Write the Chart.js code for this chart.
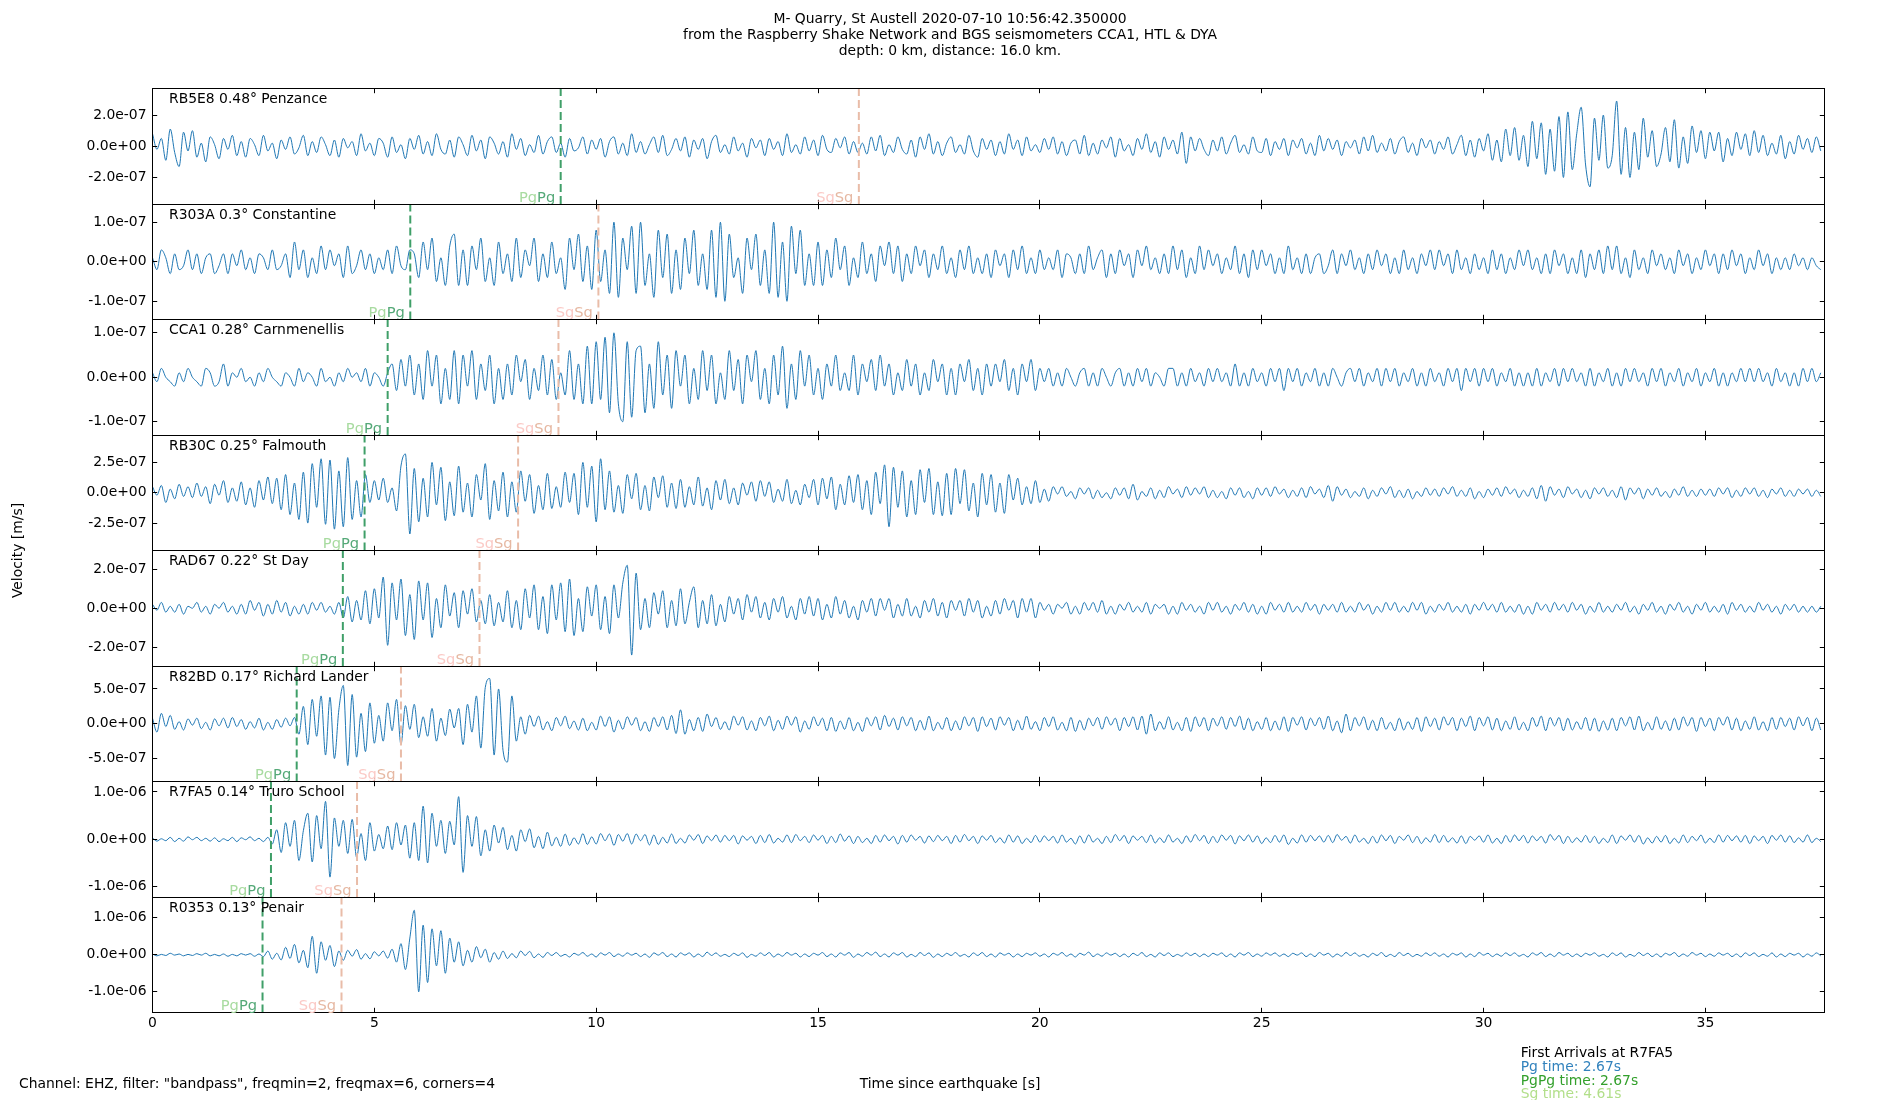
<!DOCTYPE html>
<html>
<head>
<meta charset="utf-8">
<script src="https://cdn.jsdelivr.net/npm/chart.js@4.4.0/dist/chart.umd.min.js"></script>
<style>
  html, body { margin: 0; background: #fff; }
  canvas { display: block; }
</style>
</head>
<body>
<canvas id="sismo" width="1900" height="1100"></canvas>
<script>
// station info, top panel first
const stations = ['RB5E8', 'R303A', 'CCA1', 'RB30C', 'RAD67', 'R82BD', 'R7FA5', 'R0353'];
const distances = ['0.48°', '0.3°', '0.28°', '0.25°', '0.22°', '0.17°', '0.14°', '0.13°'];
const places = ['Penzance', 'Constantine', 'Carnmenellis', 'Falmouth', 'St Day', 'Richard Lander', 'Truro School', 'Penair'];

// arrival times [s]
const pgTimes = [9.20, 5.81, 5.30, 4.78, 4.29, 3.25, 2.67, 2.48];
const sgTimes = [15.92, 10.05, 9.15, 8.24, 7.37, 5.60, 4.61, 4.26];

// y axis half ranges and tick steps [m/s]
const yLimits = [3.7e-7, 1.46e-7, 1.30e-7, 4.76e-7, 2.96e-7, 8.3e-7, 1.22e-6, 1.56e-6];
const yTickSteps = [2e-7, 1e-7, 1e-7, 2.5e-7, 2e-7, 5e-7, 1e-6, 1e-6];
const xTicks = [0, 5, 10, 15, 20, 25, 30, 35];
const xMax = 37.68;

// velocity samples every 0.1 s, in units of 1e-8 m/s (one row per second)
const dt = 0.1;
const unit = 1e-8;

const rb5e8 = [
  8,-2,5,-9,11,-4,-13,9,-3,10,
  -7,2,-10,6,1,-8,5,-2,7,-6,
  3,-7,5,1,-6,7,-3,2,-8,4,
  -2,6,-5,-1,7,-6,3,-4,6,1,
  -6,4,-7,5,-1,3,-6,8,-3,2,
  -6,5,2,-7,6,-4,1,-8,5,-2,
  7,-5,3,-6,8,-2,-5,4,-7,6,
  1,-6,7,-3,4,-8,6,2,-5,3,
  -7,8,-2,5,-6,1,-4,7,-5,3,
  6,-4,2,-7,5,-3,-1,6,-5,4,
  -2,5,-7,3,6,-5,2,-6,8,-4,
  3,-5,1,6,-4,7,-6,-2,5,-3,
  6,-7,4,-2,5,-8,3,7,-4,1,
  -5,6,-3,2,-7,5,-1,4,-6,5,
  -2,3,-6,8,-4,1,-5,6,-3,4,
  -6,7,-2,-4,5,-1,6,-5,3,-4,
  2,-5,6,-3,7,-6,1,-4,6,-2,
  -5,4,-7,6,-2,8,-5,3,-6,2,
  6,-4,1,-5,7,-3,-7,5,-2,4,
  -6,3,-5,8,-2,4,-6,6,-3,1,
  -4,5,-2,6,-5,3,-6,2,4,-5,
  7,-6,2,-5,4,-1,6,-7,5,-3,
  1,-6,5,-2,8,-4,3,-7,6,-2,
  4,-5,9,-11,6,-3,5,-2,-6,4,
  -3,6,-5,2,7,-4,1,-5,6,-3,
  -4,5,-6,3,-2,5,-6,4,-1,5,
  -5,2,-6,7,-3,5,-2,4,-6,3,
  -1,4,-5,6,-3,7,-4,2,-3,5,
  -5,3,6,-4,2,-6,5,-1,4,-5,
  3,-2,6,-5,1,7,-6,4,-7,5,
  -3,8,-9,4,-10,11,-6,12,-9,7,
  -13,16,-8,15,-18,11,-16,19,-20,22,
  -15,8,25,-12,-26,18,-9,20,-14,-6,
  29,-18,12,-20,9,-15,18,-7,10,-13,
  -5,12,-10,17,-14,6,-11,13,-4,10,
  -8,9,-3,9,-10,5,-6,9,-2,8,
  -6,10,-4,7,-6,2,-5,7,-8,3,
  -5,7,-2,5,-4,6,-3
];

const r303a = [
  1,-2,3,1,-3,2,-2,-1,3,-2,
  2,-3,1,2,-3,-1,2,-3,2,-1,
  3,-2,1,-3,2,1,-2,3,-2,-1,
  2,-4,5,-2,3,-4,1,-3,4,-2,
  3,-1,2,-4,4,-3,-1,3,-2,2,
  -3,1,-2,3,-3,4,-1,-2,3,2,
  -4,5,-2,6,-5,1,-6,4,7,-6,
  3,-6,4,-2,6,-5,1,-6,5,-3,
  2,-5,6,-4,3,-1,6,-5,2,-4,
  5,-3,1,-7,6,-2,7,-5,4,-7,
  8,-5,3,-8,10,-9,6,-2,9,-8,
  10,-6,2,-9,8,-4,7,-8,3,-7,
  6,-3,8,-6,2,-7,8,-9,10,-10,
  7,-4,1,-8,6,-2,7,-6,3,-8,
  10,-9,5,-10,9,-3,8,-6,2,-6,
  5,-6,3,-4,6,-2,4,-6,1,-4,
  5,-3,2,-5,4,-1,5,-3,4,-5,
  2,-3,4,-1,3,-4,2,-2,4,-3,
  1,-4,3,-2,4,-3,1,-3,2,-4,
  3,-1,2,-4,3,-2,4,-3,1,-3,
  3,-2,1,-2,3,-4,2,1,-3,2,
  -3,4,-2,1,3,-4,2,-3,3,-1,
  2,-4,3,-1,4,-2,1,-3,2,-3,
  4,-2,3,-4,1,-3,4,-2,3,-1,
  2,-3,1,-2,4,-3,2,-4,3,-2,
  3,-1,2,-3,1,-3,4,-2,1,-3,
  2,-3,1,2,-3,-1,3,-3,2,-1,
  3,-2,1,-3,2,-2,3,-1,2,-3,
  1,-3,3,-2,1,-3,2,-1,3,-2,
  3,-1,2,-3,3,-2,1,-3,2,-2,
  1,-3,3,-2,2,-3,1,-2,3,-1,
  3,-2,1,-3,2,-3,3,-1,2,-3,
  1,-3,3,-4,2,-2,3,-3,4,-2,
  4,-3,1,-4,3,-2,1,-3,3,-1,
  2,-2,1,-3,3,-1,2,-3,1,-2,
  3,-1,2,-3,2,-2,3,-1,2,-3,
  1,-2,3,-1,2,-3,1,-2,1,-2,
  2,-1,1,-2,1,-1,-2
];

const cca1 = [
  1,-1,2,0,-1,-2,1,-1,2,0,
  -1,-2,2,1,-2,-1,3,-2,1,0,
  2,-1,0,-2,1,-1,2,0,-1,-2,
  1,0,-2,2,-1,1,0,-2,2,-1,
  0,-2,1,-1,2,0,1,-1,2,-2,
  1,0,-2,1,3,-3,4,-2,5,-4,
  3,-5,6,-2,5,-6,2,-5,6,-6,
  5,-2,6,-5,3,-3,5,-6,2,-5,
  3,-4,5,-1,4,-5,2,-3,5,-4,
  4,-5,1,-4,6,-5,3,-6,7,-6,
  8,-5,9,-8,10,-6,-10,8,-9,6,
  7,-8,3,-7,8,-4,5,-7,6,-2,
  5,-6,2,-5,6,-3,5,-6,1,-5,
  6,-3,4,-6,5,-1,6,-5,2,-6,
  5,-4,7,-7,3,-5,6,-2,5,-4,
  2,-5,3,-2,5,-3,1,-3,5,-4,
  3,-1,4,-3,5,-2,3,-4,1,-3,
  4,-2,3,-4,1,-3,4,-1,3,-4,
  2,-4,3,-1,4,-3,2,-4,3,-2,
  3,-1,4,-3,2,-4,3,-1,4,-3,
  2,-1,2,-2,1,-2,2,0,-2,1,
  2,-2,1,-2,2,0,-2,1,2,-2,
  1,-2,2,-1,2,-2,1,0,-2,2,
  2,-2,1,-2,2,-1,1,-2,2,-1,
  2,-1,1,-2,3,-2,1,-2,2,-1,
  1,-2,2,-1,2,-3,2,-1,2,-2,
  1,-1,2,-2,1,-2,2,0,-2,1,
  2,-1,2,-2,1,-1,2,-2,2,-1,
  2,-2,1,-1,2,-2,1,-2,2,-1,
  1,-2,2,-1,2,-3,2,-1,2,-2,
  2,-1,2,-2,1,-1,2,-2,1,-2,
  1,-2,2,-2,1,-1,2,-2,2,-1,
  2,-1,1,-2,2,-2,1,-1,2,-2,
  1,-2,2,-1,2,-1,1,-2,2,-1,
  2,-2,1,-1,2,-2,1,-1,2,-2,
  1,-1,2,-2,1,-2,1,-1,2,-1,
  2,-1,2,-1,1,-2,2,-1,1,-2,
  1,-2,2,-1,2,-1,1
];

const rb30c = [
  5,-2,6,-8,3,-5,7,-3,5,-4,
  8,-3,5,-9,7,-2,10,-8,4,-7,
  9,-10,4,-12,10,-6,13,-9,12,-14,
  15,-18,8,-22,17,-25,24,-12,28,-26,
  27,-30,18,-28,29,-22,10,-20,15,-8,
  10,-6,12,-8,4,-15,22,32,-34,20,
  -24,12,-20,25,-10,21,-23,9,-19,22,
  -16,8,-20,15,-6,24,-22,10,-15,17,
  -20,9,-16,18,-7,15,-17,6,-14,16,
  -13,5,-12,17,-8,16,-18,25,-12,22,
  -24,28,-14,18,-16,6,-17,15,-5,16,
  -14,6,-15,13,-4,14,-12,8,-13,11,
  -12,5,-10,13,-11,4,-14,10,-6,11,
  -9,4,-10,8,-2,9,-7,10,-3,9,
  -8,3,-7,11,-9,2,-10,7,-4,11,
  -10,12,-5,13,-14,7,-10,14,-8,15,
  -14,10,-18,17,-9,23,-28,21,-12,18,
  -20,10,-18,19,-8,20,-18,9,-19,16,
  -18,20,-9,19,-15,8,-20,16,-10,15,
  -16,8,-17,15,-6,12,-10,5,-9,10,
  -8,3,-7,5,-1,5,-3,1,-5,4,
  -1,4,-5,2,-4,0,-5,4,-2,4,
  -5,7,-6,1,-3,4,-5,2,-4,5,
  -1,3,-4,5,-2,4,-1,5,-4,2,
  -4,1,-5,4,-2,4,-4,1,-5,4,
  -2,4,-3,5,-1,3,-4,2,-3,4,
  -4,5,-1,3,-4,6,-7,5,-2,3,
  -4,1,-3,4,-5,2,-3,4,-1,5,
  -4,2,-4,3,-5,1,-3,4,-2,3,
  -3,4,-1,5,-3,2,-3,4,-5,1,
  -4,3,-2,4,-3,5,-1,3,-4,2,
  -3,4,-5,6,-7,5,-2,3,-4,5,
  -1,3,-4,2,-5,4,-1,4,-3,2,
  -4,5,-6,4,-1,4,-5,3,-2,4,
  -3,1,-4,3,-2,5,-3,2,-3,3,
  -2,3,-3,4,-1,4,-4,2,-3,4,
  -1,4,-3,2,-4,3,-1,4,-3,2,
  -3,3,-1,3,-3,2,-3
];

const rad67 = [
  2,-1,3,-2,1,-2,2,-3,1,0,
  3,-2,1,-3,2,0,3,-2,1,-3,
  2,-3,4,-1,3,-4,2,-3,4,-2,
  3,-4,1,-3,2,-3,3,-1,3,-2,
  1,-3,3,-5,6,-7,4,-6,9,-8,
  10,-5,16,-19,13,-6,15,-14,7,-16,
  14,-6,13,-15,5,-10,12,-4,8,-10,
  9,-3,10,-7,4,-8,7,-9,3,-7,
  9,-10,4,-11,10,-5,12,-11,6,-13,
  12,-6,13,-12,15,-14,5,-12,11,-4,
  12,-11,6,-13,12,-5,13,22,-24,18,
  -11,5,-10,8,-3,9,-10,4,-9,10,
  -8,3,11,-10,4,-8,7,-9,2,-7,
  6,-3,5,-6,7,-2,6,-5,3,-6,
  5,-2,6,-5,1,-6,5,-3,6,-4,
  5,-6,2,-5,6,-3,4,-5,1,-6,
  4,-2,5,-4,5,-1,5,-5,2,-4,
  5,-4,1,-5,4,-2,5,-4,3,-5,
  4,-1,4,-4,5,-2,4,-5,1,-4,
  4,-3,5,-1,4,-5,5,-2,5,-5,
  3,-1,2,-3,2,0,3,-3,1,-3,
  3,-1,3,-2,4,-3,1,-3,2,-1,
  3,-2,1,-2,3,-3,2,0,2,-3,
  1,-3,3,-1,2,-2,1,-3,3,-1,
  3,-2,1,-3,2,-1,3,-2,2,-3,
  1,-3,3,-1,2,-2,3,-2,1,-2,
  3,-1,2,-3,2,-1,2,-2,3,-2,
  1,-2,3,-1,2,-3,1,-2,3,-1,
  3,-2,1,-2,3,-1,3,-3,1,-2,
  2,-1,3,-2,1,-2,2,-3,2,-1,
  3,-1,2,-2,3,-2,1,-2,2,-3,
  1,-3,3,-1,2,-2,3,-1,2,-2,
  3,-1,2,-3,1,-2,3,-2,1,-2,
  2,-1,3,-2,1,-3,2,-1,3,-2,
  1,-3,2,-1,3,-2,1,-3,2,-1,
  3,-2,1,-2,2,-3,3,-1,2,-2,
  1,-2,3,-1,2,-2,1,-3,2,-1,
  2,-2,1,-2,1,-2,1
];

const r82bd = [
  8,-12,15,-4,12,-8,3,-9,7,-2,
  8,-7,2,-9,7,-3,8,-6,9,-4,
  6,-8,3,-6,8,-9,2,-8,6,-5,
  8,-3,9,-15,25,-30,35,-18,40,-45,
  38,-50,20,55,-60,42,-48,15,-40,30,
  -28,12,-25,30,-10,35,-30,26,-8,28,
  -20,10,-18,22,-25,8,-17,21,-6,22,
  -30,28,-12,40,-35,52,65,-45,50,-38,
  -55,40,-25,10,-15,12,-4,11,-9,3,
  -10,9,-3,11,-7,4,-9,8,-10,2,
  -9,11,-4,10,-12,5,-8,10,-2,9,
  -10,3,-11,9,-4,10,-9,12,-14,20,
  -15,6,-10,9,-11,14,-4,9,-8,3,
  -9,11,-2,10,-9,4,-10,9,-3,11,
  -10,5,-8,11,-2,10,-12,4,-8,10,
  -3,8,-10,9,-11,4,-8,9,-10,2,
  -11,9,-3,10,-9,12,-4,8,-9,10,
  -3,9,-10,5,-9,11,-10,2,-8,9,
  -10,4,-9,10,-3,9,-11,10,-4,8,
  -9,10,-2,9,-10,5,-9,11,-8,3,
  -10,9,-4,10,-9,2,-10,9,-11,5,
  -9,8,-3,9,-8,10,-2,8,-10,9,
  -4,10,-9,11,-15,14,-10,3,-8,10,
  -9,2,-10,9,-11,10,-4,9,-10,8,
  -3,10,-8,9,-4,11,-9,8,-10,3,
  -8,9,-10,4,-9,10,-11,9,-2,10,
  -9,8,-3,9,-8,11,-10,4,-13,14,
  -10,9,-3,10,-9,5,-10,9,-8,2,
  -10,8,-9,3,-8,9,-11,10,-4,8,
  -9,10,-2,9,-10,8,-4,11,-10,9,
  -3,10,-9,8,-10,4,-8,10,-9,2,
  -10,9,-4,11,-10,9,-3,9,-10,8,
  -9,3,-8,9,-10,8,-11,4,-9,8,
  -10,9,-3,10,-9,11,-10,2,-9,10,
  -8,4,-10,8,-9,10,-3,9,-11,9,
  -4,8,-10,9,-2,10,-9,8,-10,4,
  -8,10,-9,3,-10,9,-8,9,-4,8,
  -9,10,-3,9,-10,8,-9
];

const r7fa5 = [
  3,-4,1,-3,4,-5,2,-4,5,-1,
  4,-3,2,-4,3,-5,1,-3,4,-5,
  3,-1,5,-3,2,-5,4,-10,20,-28,
  35,-15,40,-45,18,55,-48,50,-20,80,
  -80,45,-15,40,-30,42,-38,12,-45,35,
  -25,10,-20,28,-22,35,-12,30,-40,35,
  -45,70,-50,55,-15,40,-30,38,-12,90,
  -70,50,-15,48,-35,20,-25,30,-8,25,
  -22,8,-25,20,-5,22,-18,6,-20,15,
  -14,4,-15,11,-13,3,-10,12,-11,5,
  -10,12,-3,11,-13,10,-4,12,-10,11,
  -3,10,-12,9,-11,4,-8,11,-9,2,
  -8,9,-2,10,-9,7,-3,9,-6,8,
  -3,8,-10,7,-2,6,-9,8,-7,10,
  -8,2,-6,9,-7,10,-3,6,-7,9,
  -2,8,-9,6,-7,11,-4,7,-9,6,
  -7,2,-9,8,-6,9,-3,6,-10,8,
  -6,9,-2,6,-8,7,-5,8,-3,6,
  -9,8,-6,10,-3,6,-9,7,-2,8,
  -7,3,-8,9,-6,7,-9,2,-7,8,
  -6,7,-3,6,-8,9,-6,2,-10,7,
  -8,9,-6,2,-9,6,-7,10,-3,8,
  -9,7,-2,6,-7,9,-8,3,-7,9,
  -6,2,-9,7,-6,10,-3,8,-9,6,
  -7,9,-2,8,-10,7,-3,9,-6,7,
  -9,3,-7,8,-6,9,-11,2,-8,9,
  -6,8,-3,7,-6,8,-7,10,-2,6,
  -8,9,-6,2,-9,6,-8,9,-3,8,
  -9,6,-2,9,-7,6,-9,3,-6,10,
  -7,8,-6,3,-8,7,-9,6,-2,7,
  -6,9,-8,2,-9,8,-6,9,-3,8,
  -8,7,-3,6,-8,10,-2,8,-9,6,
  -7,3,-6,8,-7,6,-9,2,-7,9,
  -9,7,-2,9,-6,8,-10,3,-8,6,
  -6,8,-9,2,-8,9,-7,6,-3,9,
  -8,2,-7,9,-6,8,-3,7,-6,8,
  -9,7,-3,6,-9,8,-2,9,-6,7,
  -7,3,-6,9,-7,2,-5
];

const r0353 = [
  2,-3,1,-2,4,-1,2,-3,1,-2,
  3,-1,4,-3,1,-3,2,-4,1,-3,
  3,-1,3,-4,2,-5,10,-12,4,-14,
  20,-10,28,-22,12,-35,50,-50,35,-15,
  25,-32,10,-15,12,-4,14,-12,3,-11,
  8,-3,10,-9,15,-20,30,-40,45,120,
  -100,80,-75,70,-30,65,-50,45,-20,35,
  -30,12,-20,22,-8,15,-20,6,-12,10,
  -10,3,-8,10,-2,9,-8,2,-7,6,
  -2,6,-4,1,-6,4,-1,6,-4,2,
  -6,5,-1,6,-5,2,-4,5,-1,4,
  -5,2,-7,5,-1,6,-5,2,-6,5,
  -1,5,-6,2,-5,7,-2,5,-4,1,
  -5,4,-2,5,-7,1,-4,5,-2,6,
  -6,2,-4,6,-1,4,-6,2,-5,4,
  -1,6,-5,2,-6,5,-1,6,-7,2,
  -4,6,-1,7,-5,2,-6,5,-1,6,
  -6,1,-5,6,-2,5,-7,2,-5,4,
  -2,6,-4,1,-6,5,-2,6,-5,2,
  -6,5,-1,4,-6,2,-5,4,-1,5,
  -4,2,-6,4,-1,6,-4,2,-6,4,
  -1,7,-5,2,-4,5,-1,4,-5,2,
  -6,4,-2,6,-5,1,-6,5,-2,5,
  -5,1,-4,5,-2,4,-5,2,-5,4,
  -1,5,-5,2,-6,5,-1,6,-5,2,
  -4,5,-1,5,-4,2,-5,4,-1,5,
  -5,2,-5,6,-1,4,-6,2,-4,6,
  -2,5,-4,1,-6,4,-2,6,-5,1,
  -5,6,-2,4,-5,1,-4,5,-2,5,
  -4,2,-6,4,-1,5,-6,2,-5,6,
  -1,4,-5,2,-4,5,-2,5,-4,1,
  -6,5,-1,6,-5,2,-5,6,-1,4,
  -5,2,-5,4,-1,5,-4,1,-6,5,
  -2,5,-6,1,-4,6,-2,4,-5,2,
  -6,4,-1,6,-5,2,-4,6,-1,4,
  -5,2,-4,5,-1,4,-5,2,-6,5,
  -2,5,-5,1,-4,5,-6,2,-5,4,
  -1,4,-6,2,-4,5,-3
];

const traces = [rb5e8, r303a, cca1, rb30c, rad67, r82bd, r7fa5, r0353];

const FONT = '"DejaVu Sans", sans-serif';
const FS = 13.9;
const TICK_LEN = 4.7;
const crisp = v => Math.round(v - 0.5) + 0.5;

function sci(v) {
  if (Math.abs(v) < 1e-20) return '0.0e+00';
  const parts = v.toExponential(1).split('e');
  const n = parseInt(parts[1], 10);
  return parts[0] + 'e' + (n < 0 ? '-' : '+') + String(Math.abs(n)).padStart(2, '0');
}

const datasets = [];
traces.forEach((tr, i) => {
  datasets.push({
    data: tr.map((v, k) => ({ x: k * dt, y: v * unit })),
    yAxisID: 'p' + i,
    borderColor: '#1f77b4',
    borderWidth: 1,
    pointRadius: 0,
    cubicInterpolationMode: 'monotone',
    order: 2
  });
});
traces.forEach((tr, i) => {
  datasets.push({
    data: [{ x: pgTimes[i], y: -yLimits[i] }, { x: pgTimes[i], y: yLimits[i] }],
    yAxisID: 'p' + i,
    borderColor: '#3f9f68',
    borderWidth: 2,
    borderDash: [8, 4],
    pointRadius: 0,
    order: 1
  });
  datasets.push({
    data: [{ x: sgTimes[i], y: -yLimits[i] }, { x: sgTimes[i], y: yLimits[i] }],
    yAxisID: 'p' + i,
    borderColor: '#e9bca8',
    borderWidth: 2,
    borderDash: [8, 4],
    pointRadius: 0,
    order: 1
  });
});

const scales = {
  x: {
    type: 'linear',
    position: 'bottom',
    min: 0,
    max: xMax,
    afterBuildTicks: s => { s.ticks = xTicks.map(v => ({ value: v })); },
    afterFit: s => { s.height = 40; },
    grid: { display: false, drawTicks: false },
    border: { display: false },
    ticks: { color: '#000', padding: 3, font: { family: FONT, size: FS }, maxRotation: 0 }
  }
};
// top panel last so it ends up on top of the stack
for (let i = traces.length - 1; i >= 0; i--) {
  scales['p' + i] = {
    type: 'linear',
    position: 'left',
    stack: 'panels',
    stackWeight: 1,
    weight: traces.length - i,
    min: -yLimits[i],
    max: yLimits[i],
    afterBuildTicks: s => { s.ticks = [-yTickSteps[i], 0, yTickSteps[i]].map(v => ({ value: v })); },
    afterFit: s => { s.width = 152.5; },
    grid: { display: false, drawTicks: false },
    border: { display: false },
    ticks: { color: '#000', padding: 6, font: { family: FONT, size: FS }, callback: v => sci(v) }
  };
}

const figurePlugin = {
  id: 'figure',
  beforeDraw(chart) {
    const c = chart.ctx;
    c.save();
    c.fillStyle = '#fff';
    c.fillRect(0, 0, chart.width, chart.height);
    c.restore();
  },
  afterDatasetsDraw(chart) {
    const c = chart.ctx;
    const xs = chart.scales.x;
    const left = crisp(chart.chartArea.left);
    const right = crisp(chart.chartArea.right);
    c.save();
    c.strokeStyle = '#000';
    c.lineWidth = 1;
    traces.forEach((tr, i) => {
      const ys = chart.scales['p' + i];
      const top = crisp(ys.top);
      const bottom = crisp(ys.bottom);
      c.strokeRect(left, top, right - left, bottom - top);
      c.beginPath();
      ys.ticks.forEach(t => {
        const py = crisp(ys.getPixelForValue(t.value));
        c.moveTo(left, py); c.lineTo(left + TICK_LEN, py);
        c.moveTo(right, py); c.lineTo(right - TICK_LEN, py);
      });
      xs.ticks.forEach(t => {
        const px = crisp(xs.getPixelForValue(t.value));
        c.moveTo(px, top); c.lineTo(px, top + TICK_LEN);
        c.moveTo(px, bottom); c.lineTo(px, bottom - TICK_LEN);
      });
      c.stroke();

      // station label
      c.fillStyle = '#000';
      c.font = FS + 'px ' + FONT;
      c.textAlign = 'left';
      c.textBaseline = 'middle';
      c.fillText(stations[i] + ' ' + distances[i] + ' ' + places[i], left + 16.5, ys.top + 11);

      // phase labels
      c.font = '14.67px ' + FONT;
      c.textAlign = 'right';
      c.textBaseline = 'alphabetic';
      const base = ys.bottom - 2.5;
      const pgX = xs.getPixelForValue(pgTimes[i]) - 5.5;
      const w = c.measureText('Pg').width;
      c.fillStyle = '#55a978';
      c.fillText('Pg', pgX, base);
      c.fillStyle = '#a8dba0';
      c.fillText('Pg', pgX - w, base);
      const sgX = xs.getPixelForValue(sgTimes[i]) - 5.5;
      const ws = c.measureText('Sg').width;
      c.fillStyle = '#e6b8a2';
      c.fillText('Sg', sgX, base);
      c.fillStyle = '#fbcac6';
      c.fillText('Sg', sgX - ws, base);
    });
    c.restore();
  },
  afterDraw(chart) {
    const c = chart.ctx;
    c.save();
    c.font = FS + 'px ' + FONT;
    c.fillStyle = '#000';
    c.textBaseline = 'middle';
    c.textAlign = 'center';
    c.fillText('M- Quarry, St Austell 2020-07-10 10:56:42.350000', 950, 19.5);
    c.fillText('from the Raspberry Shake Network and BGS seismometers CCA1, HTL & DYA', 950, 35.5);
    c.fillText('depth: 0 km, distance: 16.0 km.', 950, 51.5);
    c.fillText('Time since earthquake [s]', 950, 1084.5);
    c.textAlign = 'left';
    c.fillText('Channel: EHZ, filter: "bandpass", freqmin=2, freqmax=6, corners=4', 19, 1084.5);
    c.fillText('First Arrivals at R7FA5', 1520.7, 1053.5);
    c.fillStyle = '#3182bd';
    c.fillText('Pg time: 2.67s', 1520.7, 1067.5);
    c.fillStyle = '#33a02c';
    c.fillText('PgPg time: 2.67s', 1520.7, 1081);
    c.fillStyle = '#b2df8a';
    c.fillText('Sg time: 4.61s', 1520.7, 1094.5);
    c.translate(18, 550.5);
    c.rotate(-Math.PI / 2);
    c.fillStyle = '#000';
    c.textAlign = 'center';
    c.fillText('Velocity [m/s]', 0, 0);
    c.restore();
  }
};

new Chart(document.getElementById('sismo').getContext('2d'), {
  type: 'line',
  data: { datasets: datasets },
  options: {
    responsive: false,
    animation: false,
    devicePixelRatio: 1,
    layout: { padding: { top: 88.5, right: 75.7, bottom: 47.5, left: 0 } },
    plugins: {
      legend: { display: false },
      tooltip: { enabled: false },
      title: { display: false }
    },
    scales: scales
  },
  plugins: [figurePlugin]
});
</script>
</body>
</html>
